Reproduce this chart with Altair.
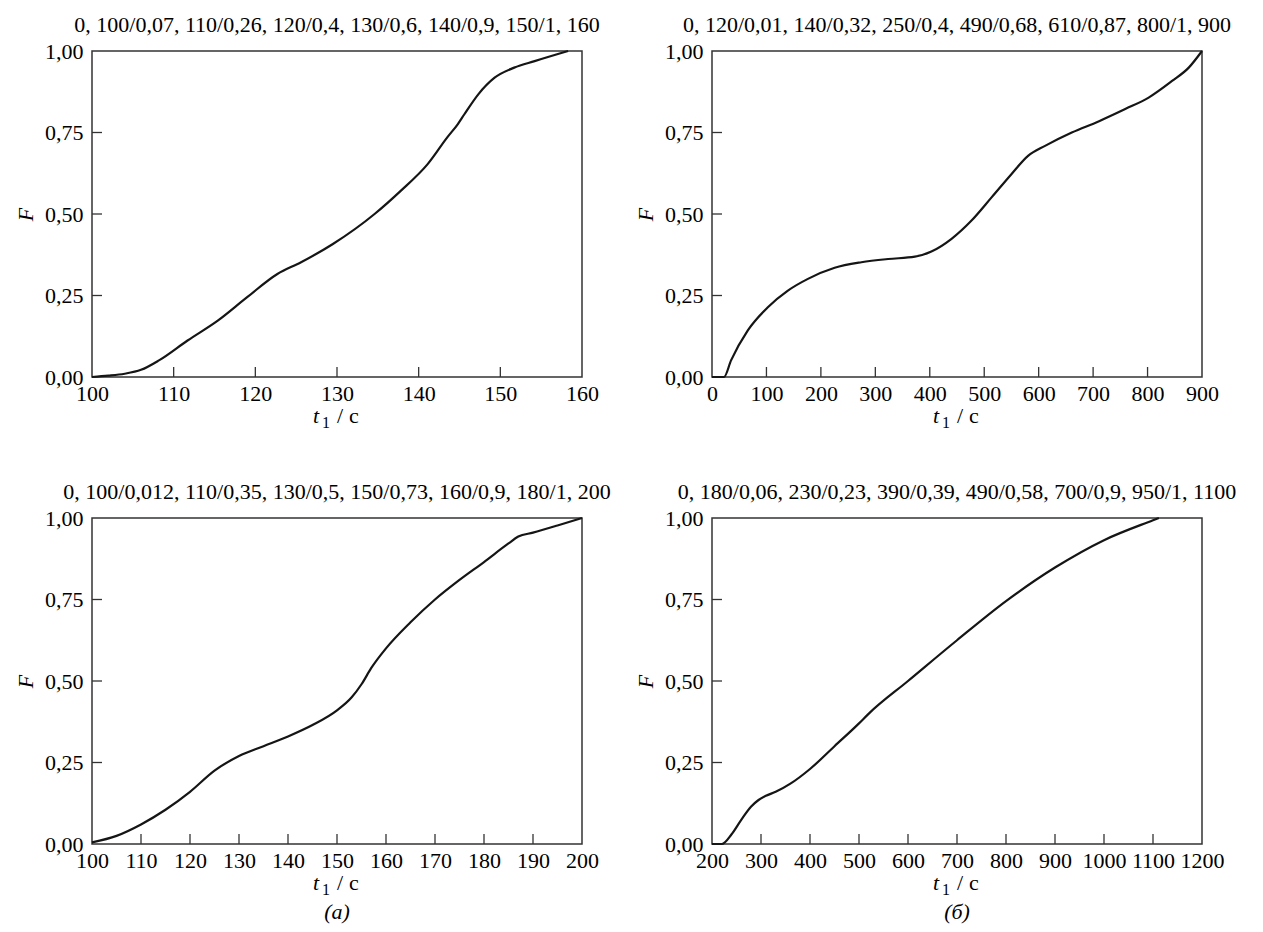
import altair as alt
import pandas as pd

FONT = "Liberation Serif"
W, H = 490, 326

titles = [
    "0, 100/0,07, 110/0,26, 120/0,4, 130/0,6, 140/0,9, 150/1, 160",
    "0, 120/0,01, 140/0,32, 250/0,4, 490/0,68, 610/0,87, 800/1, 900",
    "0, 100/0,012, 110/0,35, 130/0,5, 150/0,73, 160/0,9, 180/1, 200",
    "0, 180/0,06, 230/0,23, 390/0,39, 490/0,58, 700/0,9, 950/1, 1100",
]

# panel 1
t1 = [100, 102, 104, 106, 108.2, 111.7, 115.4, 119, 122.7, 125.6, 129.5, 134.6, 137.8,
      141.1, 143.5, 144.8, 145.6, 147.3, 149.3, 151.7, 154.2, 158.3]
f1 = [0, 0.004, 0.01, 0.022, 0.051, 0.112, 0.173, 0.245, 0.316, 0.352, 0.408, 0.50, 0.571,
      0.653, 0.735, 0.776, 0.806, 0.867, 0.918, 0.949, 0.969, 1.0]
# panel 2
t2 = [0, 22, 35, 65.8, 102.6, 139.4, 176.2, 225.3, 274.4, 323.5, 372.6, 403, 440, 476.7,
      513.5, 550.3, 581, 611.7, 660.8, 709.9, 759, 802, 845, 875.7, 900]
f2 = [0, 0, 0.051, 0.143, 0.214, 0.265, 0.301, 0.335, 0.352, 0.362, 0.369, 0.385, 0.424, 0.48,
      0.551, 0.623, 0.679, 0.709, 0.75, 0.784, 0.822, 0.857, 0.908, 0.949, 1.0]
# panel 3
t3 = [100, 105, 110, 115, 120, 125, 130, 135, 140, 145, 150, 153, 155, 157, 160, 165, 170,
      175, 180, 185, 187, 190, 195, 200]
f3 = [0.005, 0.025, 0.06, 0.105, 0.16, 0.225, 0.27, 0.30, 0.33, 0.365, 0.41, 0.45, 0.49, 0.54,
      0.60, 0.68, 0.75, 0.81, 0.865, 0.922, 0.943, 0.955, 0.977, 1.0]
# panel 4
t4 = [200, 220, 240, 260, 280, 295, 310, 330, 360, 400, 450, 500, 520, 600, 700, 800, 900,
      1000, 1100, 1112]
f4 = [0, 0, 0.03, 0.075, 0.115, 0.135, 0.148, 0.16, 0.185, 0.23, 0.30, 0.37, 0.40, 0.50,
      0.625, 0.745, 0.848, 0.932, 0.993, 1.0]

xt1 = [100, 110, 120, 130, 140, 150, 160]
xt2 = [0, 100, 200, 300, 400, 500, 600, 700, 800, 900]
xt3 = [100, 110, 120, 130, 140, 150, 160, 170, 180, 190, 200]
xt4 = [200, 300, 400, 500, 600, 700, 800, 900, 1000, 1100, 1200]
yt = [0, 0.25, 0.5, 0.75, 1.0]

AX = "#333333"
one = pd.DataFrame({"a": [0]})


def txt(s, x, y, size=22, style="normal", align="left"):
    return alt.Chart(one).mark_text(
        text=s, font=FONT, fontSize=size, fontStyle=style, align=align,
        baseline="alphabetic", color="black"
    ).encode(x=alt.value(x), y=alt.value(y))


def panel(t, f, title, xticks, sub=None):
    df = pd.DataFrame({"t": t, "F": f})
    xs = alt.Scale(domain=[xticks[0], xticks[-1]], nice=False, zero=False)
    ys = alt.Scale(domain=[0, 1], nice=False, zero=False)
    xax = alt.Axis(
        values=xticks, title=None, ticks=False, domain=False, grid=False,
        labelFont=FONT, labelFontSize=22, labelColor="black", labelPadding=6,
        labelOverlap=False, labelFlush=False, format="d")
    yax = alt.Axis(
        values=yt, ticks=False, domain=False, grid=False,
        labelExpr="replace(format(datum.value, '.2f'), '.', ',')",
        labelFont=FONT, labelFontSize=22, labelColor="black", labelPadding=9,
        title="F", titleFont=FONT, titleFontSize=22, titleFontStyle="italic",
        titleFontWeight="normal", titleColor="black", titlePadding=7)
    line = alt.Chart(df).mark_line(
        color="#151515", strokeWidth=2.2, interpolate="monotone"
    ).encode(
        x=alt.X("t:Q", scale=xs, axis=xax),
        y=alt.Y("F:Q", scale=ys, axis=yax),
    )
    xtk = alt.Chart(pd.DataFrame({"v": xticks[1:-1]})).mark_rule(
        color=AX, strokeWidth=1.3
    ).encode(x=alt.X("v:Q", scale=xs, axis=xax), y=alt.value(H), y2=alt.value(H - 10))
    ytk = alt.Chart(pd.DataFrame({"v": yt[1:-1]})).mark_rule(
        color=AX, strokeWidth=1.3
    ).encode(y=alt.Y("v:Q", scale=ys, axis=yax), x=alt.value(0), x2=alt.value(10))
    cx = W / 2
    ty = H + 46
    layers = [line, xtk, ytk,
              txt("t", cx - 18, ty, style="italic", align="right"),
              txt("1", cx - 15, ty + 5, size=16),
              txt("/", cx + 3, ty, align="center"),
              txt("с", cx + 12, ty)]
    if sub is not None:
        layers.append(txt(sub, cx, H + 75, style="italic", align="center"))
    return alt.layer(*layers).properties(
        width=W, height=H,
        title=alt.TitleParams(text=title, font=FONT, fontSize=22, fontWeight="normal",
                              color="black", offset=3, frame="group", anchor="middle"),
    )


p1 = panel(t1, f1, titles[0], xt1)
p2 = panel(t2, f2, titles[1], xt2)
p3 = panel(t3, f3, titles[2], xt3, sub="(a)")
p4 = panel(t4, f4, titles[3], xt4, sub="(б)")

chart = alt.vconcat(
    alt.hconcat(p1, p2, spacing=130, bounds="flush"),
    alt.hconcat(p3, p4, spacing=130, bounds="flush"),
    spacing=48,
).configure_view(stroke=AX, strokeWidth=1.5)

chart.save("out.html", embed_options={"renderer": "svg", "actions": False})
